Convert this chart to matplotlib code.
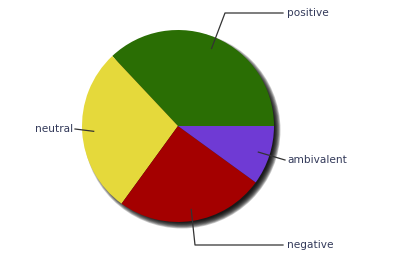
import numpy as np
import matplotlib.pyplot as plt
from matplotlib.patches import Circle

labels = ["positive", "neutral", "negative", "ambivalent"]
values = [37, 28, 25, 10]
colors = ["#2a6e04", "#e5d93b", "#a40000", "#6f3ad4"]

# label layout (pixel coords, y down): text position and elbow point
text_pos = {"positive": (287, 13), "ambivalent": (287, 160),
            "negative": (287, 245), "neutral": (73, 129)}
elbow = {"positive": (225, 13), "negative": (195, 245)}

W, H = 402, 254
cx, cy, R = 178, 126, 96

fig = plt.figure(figsize=(W / 100, H / 100), dpi=100)
ax = fig.add_axes([0, 0, 1, 1])

# soft shadow
for i in range(10):
    ax.add_patch(Circle((cx + 4, H - cy - 4), R + 2.5 - i * 0.7,
                        color="black", alpha=0.2, lw=0, zorder=1))

wedges, _ = ax.pie(values, colors=colors, startangle=0, counterclock=True,
                   radius=R, center=(cx, H - cy), frame=True,
                   wedgeprops=dict(lw=0, zorder=2))
ax.set_xlim(0, W)
ax.set_ylim(0, H)
ax.set_aspect("equal")
ax.axis("off")

tc = "#333a5a"
for w, lab in zip(wedges, labels):
    mid = np.deg2rad((w.theta1 + w.theta2) / 2)
    ax_x = cx + 0.88 * R * np.cos(mid)
    ax_y = (H - cy) + 0.88 * R * np.sin(mid)
    tx, ty = text_pos[lab]
    ty = H - ty
    if lab == "neutral":
        xs, ys = [ax_x, tx + 2], [ax_y, ty]
        ha = "right"
    elif lab in elbow:
        ex, ey = elbow[lab]
        xs, ys = [ax_x, ex, tx - 4], [ax_y, H - ey, ty]
        ha = "left"
    else:
        xs, ys = [ax_x, tx - 2], [ax_y, ty]
        ha = "left"
    ax.plot(xs, ys, color="#333333", lw=0.9, zorder=3)
    ax.text(tx, ty, lab, ha=ha, va="center", fontsize=7.6, color=tc,
            family="DejaVu Sans", zorder=4)

fig.savefig("out.png", dpi=100)
